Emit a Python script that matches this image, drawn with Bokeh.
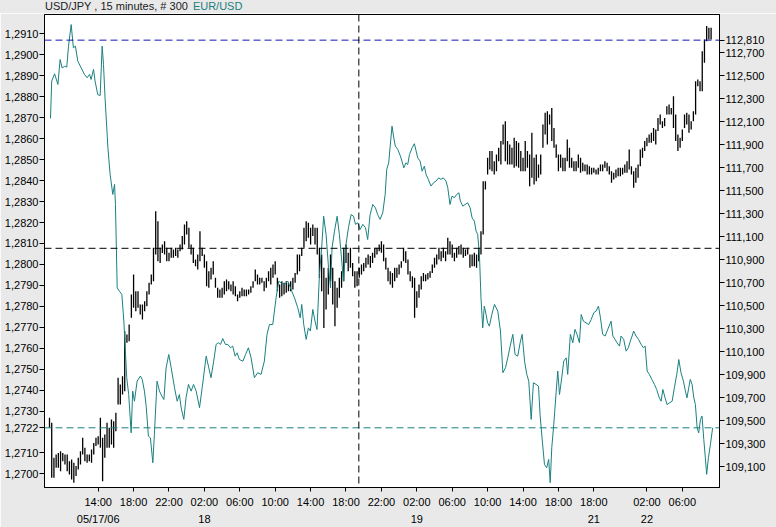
from bokeh.plotting import figure
from bokeh.layouts import column
from bokeh.models import Range1d, LinearAxis, FixedTicker, CustomJSTickFormatter, Span, Div
from bokeh.embed import file_html
from bokeh.resources import INLINE

# ---------------- data ----------------
# USD/JPY 15-minute bars (bar index 0..299): highs and lows
jpy_high = [
    109.526, 109.482, 109.178, 109.207, 109.221, 109.236, 109.221, 109.207, 109.207, 109.149,
    109.164, 109.135, 109.106, 109.178, 109.236, 109.352, 109.265, 109.207, 109.207, 109.250,
    109.308, 109.352, 109.366, 109.526, 109.352, 109.381, 109.482, 109.439, 109.511, 109.497,
    109.569, 109.874, 109.816, 109.888, 110.279, 110.250, 110.337, 110.598, 110.772, 110.627,
    110.627, 110.511, 110.511, 110.540, 110.627, 110.700, 110.772, 111.004, 111.323, 111.236,
    111.004, 111.033, 111.062, 111.004, 110.961, 111.004, 110.990, 111.004, 110.990, 111.033,
    111.106, 111.207, 111.236, 111.178, 111.033, 111.004, 110.902, 110.946, 111.149, 111.004,
    110.946, 110.888, 110.801, 110.830, 110.888, 110.743, 110.656, 110.642, 110.656, 110.714,
    110.728, 110.714, 110.685, 110.714, 110.671, 110.598, 110.627, 110.656, 110.642, 110.642,
    110.642, 110.671, 110.714, 110.815, 110.772, 110.743, 110.743, 110.714, 110.743, 110.801,
    110.830, 110.859, 110.888, 110.743, 110.685, 110.714, 110.700, 110.714, 110.700, 110.714,
    110.743, 110.786, 110.946, 110.946, 111.004, 111.178, 111.236, 111.222, 111.178, 111.207,
    111.178, 111.178, 111.004, 110.946, 110.830, 110.743, 110.830, 110.946, 110.830, 110.714,
    110.656, 110.743, 110.801, 111.004, 111.033, 110.961, 111.004, 110.873, 110.801, 110.801,
    110.830, 110.859, 110.873, 110.917, 110.946, 110.932, 110.961, 111.004, 111.004, 111.033,
    111.062, 111.033, 110.917, 110.830, 110.801, 110.786, 110.830, 110.830, 110.859, 110.888,
    111.004, 110.975, 110.902, 110.801, 110.757, 110.743, 110.627, 110.685, 110.757, 110.786,
    110.772, 110.786, 110.801, 110.859, 110.917, 110.946, 111.004, 110.975, 111.004, 110.975,
    111.091, 111.062, 111.033, 110.961, 111.004, 111.019, 111.033, 111.004, 110.990, 111.004,
    110.946, 110.946, 110.961, 110.946, 111.004, 111.149, 111.584, 111.584, 111.787, 111.845,
    111.845, 111.758, 111.816, 111.874, 111.932, 112.076, 112.105, 111.932, 111.903, 111.874,
    111.961, 111.932, 111.917, 111.845, 111.787, 111.932, 111.845, 111.816, 112.004, 111.787,
    111.816, 111.729, 111.816, 112.076, 112.178, 112.192, 112.163, 112.221, 112.047, 111.903,
    111.816, 111.816, 111.787, 111.787, 111.946, 111.874, 111.787, 111.758, 111.758, 111.816,
    111.787, 111.743, 111.729, 111.729, 111.714, 111.700, 111.700, 111.685, 111.700, 111.729,
    111.729, 111.758, 111.743, 111.714, 111.671, 111.656, 111.685, 111.700, 111.700, 111.700,
    111.729, 111.758, 111.859, 111.714, 111.671, 111.700, 111.729, 111.859, 111.874, 111.932,
    111.961, 111.990, 112.004, 112.047, 112.033, 112.134, 112.163, 112.105, 112.134, 112.236,
    112.250, 112.221, 112.323, 112.163, 111.990, 111.961, 112.033, 112.163, 112.178, 112.163,
    112.105, 112.192, 112.453, 112.468, 112.453, 112.714, 112.816, 112.932, 112.917, 112.917,
]
jpy_low = [
    109.439, 109.004, 109.004, 109.091, 109.091, 109.062, 109.149, 109.120, 109.062, 109.033,
    108.990, 108.961, 109.019, 109.077, 109.120, 109.207, 109.149, 109.135, 109.149, 109.135,
    109.207, 109.280, 109.294, 109.265, 108.975, 109.178, 109.265, 109.265, 109.294, 109.265,
    109.410, 109.642, 109.642, 109.729, 109.758, 110.178, 110.192, 110.395, 110.482, 110.453,
    110.482, 110.424, 110.381, 110.453, 110.497, 110.598, 110.685, 110.714, 110.946, 110.888,
    110.873, 110.960, 110.946, 110.888, 110.888, 110.917, 110.917, 110.932, 110.917, 110.975,
    110.990, 111.033, 111.120, 111.004, 110.946, 110.873, 110.844, 110.815, 110.888, 110.932,
    110.830, 110.671, 110.656, 110.728, 110.772, 110.656, 110.569, 110.569, 110.569, 110.598,
    110.627, 110.642, 110.627, 110.598, 110.584, 110.540, 110.569, 110.584, 110.584, 110.584,
    110.598, 110.613, 110.656, 110.714, 110.685, 110.685, 110.700, 110.627, 110.656, 110.714,
    110.685, 110.743, 110.772, 110.627, 110.569, 110.584, 110.598, 110.613, 110.627, 110.627,
    110.642, 110.700, 110.772, 110.801, 110.932, 111.004, 111.062, 111.091, 111.033, 111.106,
    111.033, 110.946, 110.743, 110.627, 110.308, 110.468, 110.598, 110.714, 110.511, 110.323,
    110.482, 110.569, 110.656, 110.714, 110.873, 110.801, 110.830, 110.757, 110.656, 110.671,
    110.743, 110.772, 110.801, 110.830, 110.859, 110.830, 110.873, 110.917, 110.946, 110.975,
    110.961, 110.888, 110.815, 110.714, 110.685, 110.656, 110.714, 110.743, 110.772, 110.830,
    110.888, 110.873, 110.772, 110.714, 110.656, 110.395, 110.482, 110.569, 110.642, 110.714,
    110.714, 110.728, 110.743, 110.786, 110.830, 110.859, 110.902, 110.888, 110.917, 110.888,
    110.946, 110.946, 110.917, 110.888, 110.917, 110.946, 110.946, 110.917, 110.932, 110.946,
    110.830, 110.844, 110.844, 110.830, 110.888, 110.946, 111.120, 111.511, 111.642, 111.685,
    111.671, 111.642, 111.671, 111.758, 111.729, 111.903, 111.758, 111.729, 111.729, 111.729,
    111.700, 111.714, 111.700, 111.671, 111.671, 111.671, 111.700, 111.540, 111.613, 111.555,
    111.584, 111.613, 111.642, 111.874, 111.990, 111.903, 112.076, 111.932, 111.874, 111.787,
    111.671, 111.700, 111.671, 111.671, 111.758, 111.700, 111.700, 111.671, 111.671, 111.700,
    111.656, 111.671, 111.671, 111.642, 111.642, 111.642, 111.656, 111.642, 111.642, 111.671,
    111.671, 111.700, 111.671, 111.642, 111.569, 111.598, 111.613, 111.627, 111.627, 111.642,
    111.656, 111.656, 111.685, 111.642, 111.526, 111.569, 111.613, 111.714, 111.787, 111.845,
    111.888, 111.917, 111.917, 111.932, 111.903, 112.019, 112.076, 112.047, 112.062, 112.163,
    112.163, 112.163, 112.047, 111.932, 111.845, 111.874, 111.932, 112.047, 112.076, 112.004,
    112.033, 112.105, 112.163, 112.410, 112.366, 112.366, 112.613, 112.801, 112.816, 112.816,
]
bar_index = list(range(len(jpy_high)))

# EUR/USD close line (position in bar units, value)
eur_t = [
    0.45, 1.0, 2.3, 3.8, 4.8, 5.7, 6.8, 7.8, 8.6, 9.8, 10.8, 11.7, 12.8, 14.3, 15.8, 17.0, 18.1, 18.8,
    19.9, 20.6, 21.8, 22.9, 23.8, 24.4, 25.1, 26.4, 27.4, 28.6, 29.4, 29.8, 30.6, 31.6, 32.7, 33.6,
    34.3, 34.9, 35.8, 36.9, 37.6, 38.4, 39.6, 41.1, 41.9, 42.9, 43.7, 44.7, 45.6, 46.7, 47.4, 48.6,
    49.7, 50.8, 51.7, 52.7, 53.9, 55.0, 56.5, 57.7, 58.7, 59.5, 60.7, 61.7, 62.8, 64.0, 65.1, 66.3,
    67.8, 69.0, 70.8, 72.0, 73.0, 74.2, 75.3, 76.3, 77.3, 78.3, 79.5, 80.6, 81.8, 82.8, 83.9, 84.8,
    85.8, 87.4, 88.6, 89.9, 91.1, 92.6, 94.1, 95.6, 97.1, 98.3, 99.4, 100.9, 102.4, 103.6, 104.7,
    106.2, 107.7, 109.2, 110.7, 112.2, 113.3, 114.0, 114.9, 116.0, 117.0, 117.9, 119.0, 120.0,
    120.9, 122.0, 123.0, 123.9, 125.0, 126.1, 127.0, 127.7, 128.8, 130.0, 131.0, 132.1, 132.8,
    134.0, 135.1, 136.3, 137.4, 138.3, 139.3, 140.4, 141.6, 142.8, 143.8, 144.9, 146.1, 147.3,
    148.3, 149.4, 150.6, 151.7, 152.4, 153.3, 153.9, 154.8, 155.6, 156.3, 157.4, 158.6, 159.3,
    160.1, 161.1, 161.9, 162.7, 163.9, 164.9, 165.7, 166.4, 167.5, 168.4, 169.4, 170.2, 171.2,
    172.4, 173.6, 174.7, 175.9, 176.9, 178.0, 179.2, 180.0, 181.0, 181.9, 183.0, 184.0, 185.0,
    185.7, 186.8, 187.8, 189.0, 190.1, 191.0, 192.0, 192.8, 193.5, 194.3, 195.0, 195.8, 196.5,
    197.3, 198.0, 198.8, 199.9, 201.1, 202.6, 203.8, 204.9, 206.1, 207.1, 208.2, 209.4, 210.4,
    211.6, 212.7, 213.6, 214.7, 215.7, 216.6, 217.7, 218.7, 219.9, 221.0, 221.7, 222.6, 223.7,
    224.7, 225.6, 226.3, 227.0, 227.9, 229.0, 229.7, 230.5, 231.5, 232.4, 233.5, 234.2, 235.4,
    236.5, 237.5, 238.4, 239.5, 240.3, 241.3, 242.5, 243.7, 244.8, 246.0, 247.0, 248.1, 249.0,
    250.0, 251.1, 252.3, 253.8, 254.6, 255.6, 256.5, 257.6, 258.3, 259.5, 260.6, 261.6, 262.5,
    263.3, 264.0, 265.1, 266.2, 267.4, 268.4, 269.2, 270.1, 271.1, 272.2, 273.4, 274.4, 275.6,
    276.4, 277.2, 278.2, 279.1, 280.2, 281.4, 282.4, 283.5, 284.4, 285.4, 286.5, 287.4, 288.1,
    288.9, 289.6, 290.4, 291.2, 291.9, 292.7, 293.4, 294.2, 294.9, 295.7, 296.4, 297.0, 297.8,
    298.7, 299.7,
]
eur_v = [
    1.28697, 1.28875, 1.28910, 1.28859, 1.28978, 1.28938, 1.28946, 1.28942, 1.29042, 1.29145,
    1.29034, 1.29042, 1.28970, 1.28938, 1.28907, 1.28891, 1.28907, 1.28883, 1.28931, 1.28875,
    1.28811, 1.28806, 1.29042, 1.28954, 1.28795, 1.28557, 1.28429, 1.28334, 1.28382, 1.28286,
    1.27888, 1.27872, 1.27857, 1.27729, 1.27586, 1.27459, 1.27379, 1.27196, 1.27395, 1.27347,
    1.27443, 1.27467, 1.27451, 1.27395, 1.27323, 1.27180, 1.27172, 1.27053, 1.27188, 1.27443,
    1.27395, 1.27371, 1.27355, 1.27506, 1.27570, 1.27506, 1.27411, 1.27347, 1.27379, 1.27316,
    1.27260, 1.27363, 1.27427, 1.27395, 1.27427, 1.27395, 1.27316, 1.27411, 1.27562, 1.27506,
    1.27459, 1.27538, 1.27618, 1.27626, 1.27618, 1.27646, 1.27618, 1.27618, 1.27602, 1.27610,
    1.27562, 1.27578, 1.27546, 1.27538, 1.27570, 1.27602, 1.27554, 1.27459, 1.27483, 1.27475,
    1.27538, 1.27666, 1.27713, 1.27713, 1.27841, 1.27920, 1.27912, 1.27904, 1.27920, 1.27880,
    1.27841, 1.27793, 1.27745, 1.27809, 1.27713, 1.27642, 1.27697, 1.27682, 1.27785, 1.27729,
    1.27689, 1.27952, 1.28079, 1.28230, 1.28143, 1.27984, 1.27888, 1.28079, 1.28159, 1.28230,
    1.28143, 1.28016, 1.27920, 1.28095, 1.28175, 1.28238, 1.28230, 1.28191, 1.28199, 1.28167,
    1.28191, 1.28175, 1.28119, 1.28238, 1.28286, 1.28270, 1.28238, 1.28215, 1.28246, 1.28334,
    1.28453, 1.28485, 1.28557, 1.28660, 1.28604, 1.28565, 1.28549, 1.28517, 1.28493, 1.28461,
    1.28485, 1.28477, 1.28525, 1.28557, 1.28576, 1.28541, 1.28509, 1.28493, 1.28445, 1.28469,
    1.28429, 1.28406, 1.28374, 1.28390, 1.28398, 1.28413, 1.28406, 1.28413, 1.28398, 1.28366,
    1.28286, 1.28326, 1.28318, 1.28334, 1.28342, 1.28302, 1.28278, 1.28286, 1.28294, 1.28270,
    1.28222, 1.28207, 1.28159, 1.28143, 1.28047, 1.27841, 1.27697, 1.27801, 1.27761, 1.27721,
    1.27705, 1.27761, 1.27809, 1.27777, 1.27682, 1.27483, 1.27507, 1.27554, 1.27610, 1.27666,
    1.27570, 1.27562, 1.27626, 1.27666, 1.27538, 1.27475, 1.27443, 1.27260, 1.27435, 1.27427,
    1.27419, 1.27284, 1.27172, 1.27045, 1.27029, 1.27069, 1.26958, 1.27125, 1.27236, 1.27395,
    1.27491, 1.27379, 1.27459, 1.27538, 1.27554, 1.27475, 1.27666, 1.27626, 1.27690, 1.27666,
    1.27626, 1.27761, 1.27729, 1.27721, 1.27713, 1.27737, 1.27769, 1.27777, 1.27801, 1.27745,
    1.27666, 1.27658, 1.27690, 1.27729, 1.27658, 1.27642, 1.27626, 1.27610, 1.27658, 1.27642,
    1.27586, 1.27602, 1.27634, 1.27658, 1.27682, 1.27658, 1.27642, 1.27618, 1.27602, 1.27610,
    1.27491, 1.27475, 1.27451, 1.27427, 1.27403, 1.27363, 1.27347, 1.27403, 1.27363, 1.27331,
    1.27339, 1.27347, 1.27411, 1.27475, 1.27546, 1.27483, 1.27443, 1.27395, 1.27363, 1.27411,
    1.27451, 1.27427, 1.27363, 1.27331, 1.27220, 1.27196, 1.27260, 1.27276, 1.27164, 1.27077,
    1.26998, 1.27077, 1.27141, 1.27220,
]

# reference values
eur_last = 1.2722
jpy_last = 112.81
cursor_bar = 139.8
cursor_jpy = 111.0

# axis ticks / labels
time_ticks = [22, 38, 54, 70, 86, 102, 118, 134, 150, 166, 182, 198, 214, 230, 246, 270, 286]
time_labels = ["14:00", "18:00", "22:00", "02:00", "06:00", "10:00", "14:00", "18:00", "22:00",
               "02:00", "06:00", "10:00", "14:00", "18:00", "18:00", "02:00", "06:00"]
date_ticks = [22, 70, 166, 246, 270]
date_labels = ["05/17/06", "18", "19", "21", "22"]
eur_ticks = [1.2700, 1.2710, 1.2722, 1.2730, 1.2740, 1.2750, 1.2760, 1.2770, 1.2780, 1.2790,
             1.2800, 1.2810, 1.2820, 1.2830, 1.2840, 1.2850, 1.2860, 1.2870, 1.2880, 1.2890,
             1.2900, 1.2910]
jpy_ticks = [109.1, 109.3, 109.5, 109.7, 109.9, 110.1, 110.3, 110.5, 110.7, 110.9, 111.1,
             111.3, 111.5, 111.7, 111.9, 112.1, 112.3, 112.5, 112.7, 112.81]

title_text = "USD/JPY , 15 minutes, # 300"
title_series = "EUR/USD"

# ---------------- styles ----------------
TEAL = "#1b8080"
BLUE = "#1515b5"
FONT = "Liberation Sans"
FS = "11px"
BG = "#E9E9E9"

header = Div(
    text=(f'<span style="color:#202020">{title_text}</span>'
          f'<span style="color:{TEAL};margin-left:5px">{title_series}</span>'),
    width=776, height=13, margin=0,
    styles={"background-color": BG, "font-family": FONT, "font-size": FS,
            "line-height": "13px", "padding-left": "45px", "box-sizing": "border-box",
            "white-space": "nowrap", "overflow": "hidden"},
)

X0, X1 = -2.26, 302.8
Y0, Y1 = 1.26935, 1.29193
p = figure(width=776, height=514, output_backend="svg", toolbar_location=None,
           x_range=Range1d(X0, X1), y_range=Range1d(Y0, Y1),
           min_border_left=44, min_border_right=57, min_border_top=1, min_border_bottom=40,
           background_fill_color="white", border_fill_color=BG, margin=0)
p.extra_y_ranges = {"jpy": Range1d(108.920, 113.033)}
p.grid.visible = False
p.outline_line_color = "black"
p.outline_line_alpha = 1.0
p.outline_line_width = 1


def style_axis(ax, tick_out=4, standoff=2):
    ax.axis_line_color = "black"
    ax.major_tick_line_color = "black"
    ax.major_tick_in = 0
    ax.major_tick_out = tick_out
    ax.minor_tick_line_color = None
    ax.major_label_text_font = FONT
    ax.major_label_text_font_size = FS
    ax.major_label_text_color = "black"
    ax.major_label_standoff = standoff


FMT = "return tick.toFixed(nd).replace('.', ',');"

xa = p.xaxis[0]
style_axis(xa, 4, 4)
xa.ticker = FixedTicker(ticks=time_ticks)
xa.major_label_overrides = dict(zip(time_ticks, time_labels))

date_axis = LinearAxis(ticker=FixedTicker(ticks=date_ticks),
                       major_label_overrides=dict(zip(date_ticks, date_labels)))
style_axis(date_axis, 0, 2)
date_axis.axis_line_color = None
date_axis.major_tick_line_color = None
p.add_layout(date_axis, "below")

ya = p.yaxis[0]
style_axis(ya, 5, 1)
ya.ticker = FixedTicker(ticks=eur_ticks)
ya.formatter = CustomJSTickFormatter(args=dict(nd=4), code=FMT)

ra = LinearAxis(y_range_name="jpy", ticker=FixedTicker(ticks=jpy_ticks))
style_axis(ra, 5, 1)
ra.formatter = CustomJSTickFormatter(args=dict(nd=3), code=FMT)
p.add_layout(ra, "right")

# reference lines
p.add_layout(Span(location=jpy_last, dimension="width", y_range_name="jpy",
                  line_color=BLUE, line_dash="7 4", line_width=1))
p.add_layout(Span(location=eur_last, dimension="width",
                  line_color=TEAL, line_dash="7 4", line_width=1))
p.add_layout(Span(location=cursor_jpy, dimension="width", y_range_name="jpy",
                  line_color="black", line_dash="7 4", line_width=1))
p.add_layout(Span(location=cursor_bar, dimension="height",
                  line_color="black", line_dash="7 4", line_width=1))

# series
p.segment(x0=bar_index, y0=jpy_low, x1=bar_index, y1=jpy_high, y_range_name="jpy",
          line_color="black", line_width=1.3)
p.line(eur_t, eur_v, line_color=TEAL, line_width=1)

page = column(header, p, spacing=0, margin=0)
open("out.html", "w").write(file_html(page, INLINE))
